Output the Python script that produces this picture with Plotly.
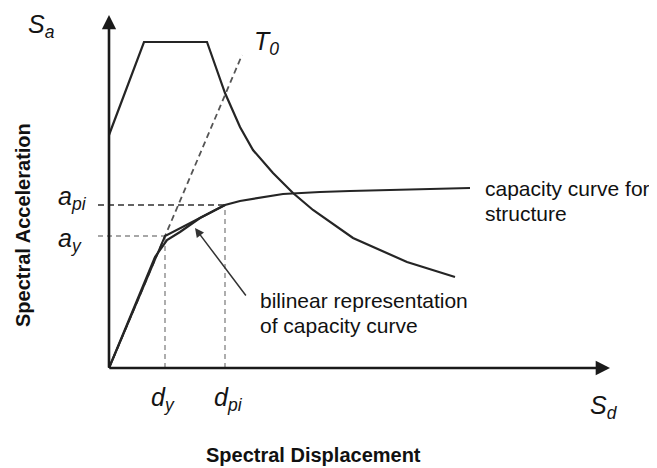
import plotly.graph_objects as go

# Coordinates in arbitrary spectral units (origin at Sd=0, Sa=0)
spec_x = [0.0, 0.70, 1.96, 2.32, 2.62, 2.88, 3.28, 3.68, 4.08, 4.88, 5.96, 6.92]
spec_y = [4.66, 6.52, 6.52, 5.50, 4.82, 4.36, 3.90, 3.50, 3.16, 2.60, 2.12, 1.82]

cap_x = [0.0, 0.92, 1.16, 1.42, 1.82, 2.32, 2.62, 3.48, 4.22, 4.82, 7.22]
cap_y = [0.0, 2.22, 2.56, 2.72, 3.00, 3.26, 3.34, 3.48, 3.52, 3.54, 3.60]

bil_x = [0.0, 1.12, 2.32]
bil_y = [0.0, 2.64, 3.26]

t0_x = [0.0, 2.66]
t0_y = [0.0, 6.26]

dy, ay = 1.12, 2.64
dpi, api = 2.32, 3.26
x_axis_end = 10.02
y_axis_end = 7.06

fig = go.Figure()
dark = "#252525"

def line(x, y, color=dark, width=2.2, dash="solid"):
    fig.add_trace(go.Scatter(x=x, y=y, mode="lines", line=dict(color=color, width=width, dash=dash),
                             hoverinfo="skip", showlegend=False))

# reference dashed lines
line([-0.22, dy], [ay, ay], color="#8a8a8a", width=1.6, dash="5px,4px")
line([-0.22, dpi], [api, api], color="#303030", width=1.6, dash="6px,4px")
line([dy, dy], [0, ay], color="#9a9a9a", width=1.6, dash="5px,4px")
line([dpi, dpi], [0, api], color="#9a9a9a", width=1.6, dash="5px,4px")
line(t0_x, t0_y, color="#555555", width=1.8, dash="6px,4px")

# curves
line(spec_x, spec_y)
line(cap_x, cap_y)
line(bil_x, bil_y, width=2.0)

ann = []
# axes with arrows
ann.append(dict(x=x_axis_end, y=0, ax=-0.02, ay=0, xref="x", yref="y", axref="x", ayref="y",
                showarrow=True, arrowhead=2, arrowsize=1.1, arrowwidth=2.6, arrowcolor="#1a1a1a", text=""))
ann.append(dict(x=0, y=y_axis_end, ax=0, ay=-0.02, xref="x", yref="y", axref="x", ayref="y",
                showarrow=True, arrowhead=2, arrowsize=1.1, arrowwidth=2.6, arrowcolor="#1a1a1a", text=""))
# pointer arrow
ann.append(dict(x=1.72, y=2.80, ax=2.76, ay=1.42, xref="x", yref="y", axref="x", ayref="y",
                showarrow=True, arrowhead=2, arrowsize=1.2, arrowwidth=1.5, arrowcolor="#333333", text=""))

sym = dict(family="Arial, Liberation Sans", size=25, color="#141414")
def lab(txt, x, y, xa="left", ya="middle", font=sym):
    ann.append(dict(text=txt, x=x, y=y, xref="x", yref="y", xanchor=xa, yanchor=ya,
                    showarrow=False, font=font))

lab("<i>S</i><sub><i>a</i></sub>", -1.66, 6.84)
lab("<i>T</i><sub><i>0</i></sub>", 2.86, 6.50)
lab("<i>a</i><sub><i>pi</i></sub>", -1.06, 3.40)
lab("<i>a</i><sub><i>y</i></sub>", -1.06, 2.56)
lab("<i>d</i><sub><i>y</i></sub>", 0.80, -0.62)
lab("<i>d</i><sub><i>pi</i></sub>", 2.06, -0.62)
lab("<i>S</i><sub><i>d</i></sub>", 9.58, -0.78)

txt = dict(family="Arial, Liberation Sans", size=21, color="#111111")
lab("capacity curve for", 7.48, 3.60, font=txt)
lab("structure", 7.48, 3.10, font=txt)
lab("bilinear representation", 2.98, 1.36, font=txt)
lab("of capacity curve", 2.98, 0.86, font=txt)

bold = dict(family="Arial, Liberation Sans", size=20, color="#111111")
ann.append(dict(text="<b>Spectral Acceleration</b>", x=-1.72, y=2.86, xref="x", yref="y",
                textangle=-90, showarrow=False, font=bold))
ann.append(dict(text="<b>Spectral Displacement</b>", x=4.08, y=-1.74, xref="x", yref="y",
                showarrow=False, font=bold))

# page body adds an 8px offset; ranges compensate so marks land at the reference pixels
fig.update_layout(
    width=657, height=468,
    margin=dict(l=0, r=0, t=0, b=0),
    paper_bgcolor="white", plot_bgcolor="white",
    xaxis=dict(range=[-2.02, 11.12], visible=False, fixedrange=True),
    yaxis=dict(range=[-2.16, 7.20], visible=False, fixedrange=True),
    annotations=ann,
    showlegend=False,
)

fig.write_html("out.html")
